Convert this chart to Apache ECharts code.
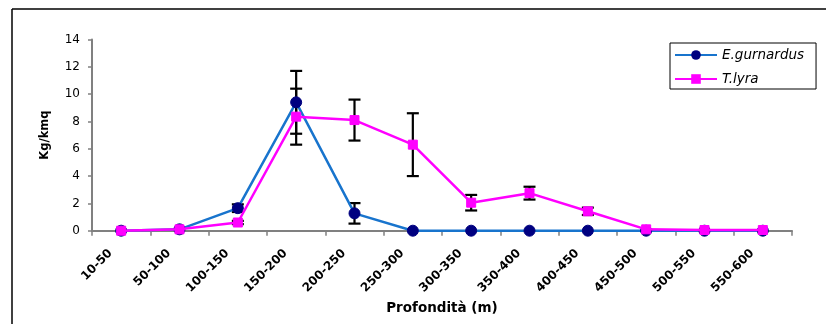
<!DOCTYPE html>
<html>
<head>
<meta charset="utf-8">
<script src="https://cdn.jsdelivr.net/npm/echarts@6/dist/echarts.min.js"></script>
<style>html,body{margin:0;padding:0;background:#fff;}#c{width:826px;height:324px;}</style>
</head>
<body>
<div id="c"></div>
<script>
var categories = ['10-50','50-100','100-150','150-200','200-250','250-300','300-350','350-400','400-450','450-500','500-550','550-600'];
var gurnardus = [0, 0.1, 1.65, 9.4, 1.27, 0, 0, 0, 0, 0, 0, 0];
var gurnardusErr = [0, 0, 0.28, 2.3, 0.75, 0, 0, 0, 0, 0, 0, 0];
var lyra = [0, 0.1, 0.6, 8.35, 8.1, 6.3, 2.05, 2.75, 1.42, 0.1, 0.05, 0.05];
var lyraErr = [0, 0, 0.12, 2.05, 1.5, 2.3, 0.57, 0.47, 0.27, 0, 0, 0];
var yTicks = [0, 2, 4, 6, 8, 10, 12, 14];

var FONT = 'DejaVu Sans';

function errData(vals, errs) {
  return vals.map(function (v, i) { return [i, v, errs[i]]; });
}
function renderErr(params, api) {
  var i = api.value(0), v = api.value(1), e = api.value(2);
  if (!e) return null;
  var top = api.coord([i, v + e]);
  var bot = api.coord([i, v - e]);
  var hw = 6;
  var st = { stroke: '#000', lineWidth: 2.2 };
  return {
    type: 'group',
    children: [
      { type: 'line', shape: { x1: top[0], y1: top[1], x2: bot[0], y2: bot[1] }, style: st },
      { type: 'line', shape: { x1: top[0] - hw, y1: top[1], x2: top[0] + hw, y2: top[1] }, style: st },
      { type: 'line', shape: { x1: bot[0] - hw, y1: bot[1], x2: bot[0] + hw, y2: bot[1] }, style: st }
    ]
  };
}

var chart = echarts.init(document.getElementById('c'), null, { renderer: 'canvas' });
chart.setOption({
  animation: false,
  backgroundColor: '#fff',
  graphic: [
    { type: 'line', shape: { x1: 12, y1: 9, x2: 12, y2: 324 }, style: { stroke: '#000', lineWidth: 1.5 } },
    { type: 'line', shape: { x1: 12, y1: 9, x2: 826, y2: 9 }, style: { stroke: '#000', lineWidth: 1.5 } }
  ],
  grid: { left: 92, right: 34, top: 39.5, bottom: 93.3, containLabel: false },
  legend: {
    left: 670, top: 43,
    orient: 'vertical',
    data: ['E.gurnardus', 'T.lyra'],
    itemWidth: 42, itemHeight: 12, itemGap: 10,
    padding: [5, 12, 3, 4],
    borderColor: '#000', borderWidth: 1,
    backgroundColor: '#fff',
    textStyle: { fontFamily: FONT, fontStyle: 'italic', fontSize: 13.5, color: '#000' }
  },
  xAxis: {
    type: 'category',
    data: categories,
    boundaryGap: true,
    name: 'Profondità (m)',
    nameLocation: 'middle',
    nameGap: 67,
    nameTextStyle: { fontFamily: FONT, fontWeight: 'bold', fontSize: 13.5, color: '#000' },
    axisLine: { lineStyle: { color: '#808080', width: 2 } },
    axisTick: { show: true, length: 5, lineStyle: { color: '#808080', width: 1.5 } },
    axisLabel: { rotate: 45, fontFamily: FONT, fontWeight: 'bold', fontSize: 12, color: '#000', margin: 10, padding: [0, 15, 0, 0], interval: 0 },
    splitLine: { show: false }
  },
  yAxis: {
    type: 'value',
    min: yTicks[0], max: yTicks[yTicks.length - 1], interval: 2,
    name: 'Kg/kmq',
    nameLocation: 'middle',
    nameGap: 41,
    nameTextStyle: { fontFamily: FONT, fontWeight: 'bold', fontSize: 11.5, color: '#000' },
    axisLine: { show: true, lineStyle: { color: '#808080', width: 2 } },
    axisTick: { show: true, length: 4, lineStyle: { color: '#808080', width: 1.5 } },
    axisLabel: { fontFamily: FONT, fontSize: 12, color: '#000', margin: 12 },
    splitLine: { show: false }
  },
  series: [
    {
      type: 'custom', name: 'errG', renderItem: renderErr, data: errData(gurnardus, gurnardusErr),
      encode: { x: 0, y: 1 }, z: 1, silent: true
    },
    {
      type: 'custom', name: 'errL', renderItem: renderErr, data: errData(lyra, lyraErr),
      encode: { x: 0, y: 1 }, z: 1, silent: true
    },
    {
      name: 'E.gurnardus', type: 'line', data: gurnardus, z: 2,
      symbol: 'circle', symbolSize: 11, showAllSymbol: true,
      lineStyle: { color: '#1874CD', width: 2.5 },
      itemStyle: { color: '#000080', borderColor: '#000080' }
    },
    {
      name: 'T.lyra', type: 'line', data: lyra, z: 3,
      symbol: 'rect', symbolSize: 9, showAllSymbol: true,
      lineStyle: { color: '#FF00FF', width: 2.5 },
      itemStyle: { color: '#FF00FF', borderColor: '#FF00FF' }
    }
  ]
});
</script>
</body>
</html>
